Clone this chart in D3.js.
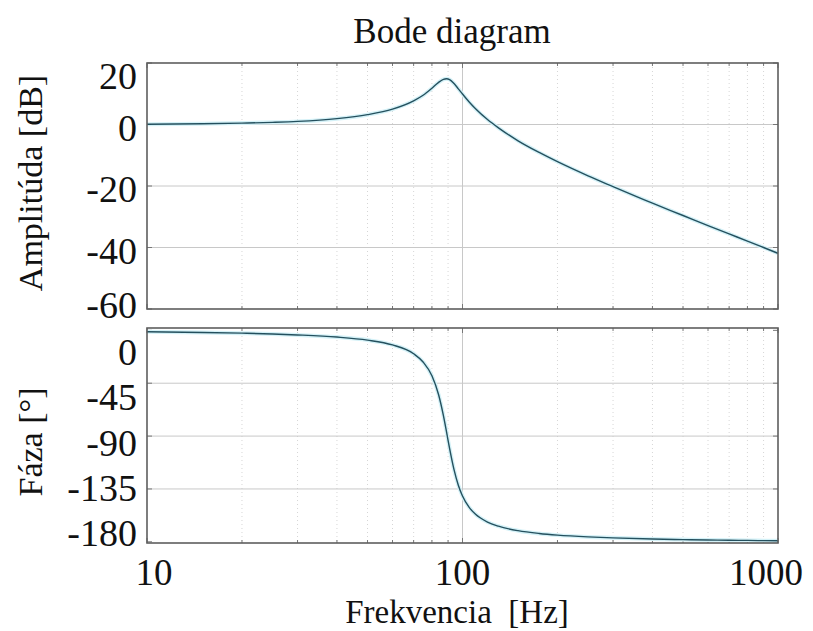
<!DOCTYPE html>
<html>
<head>
<meta charset="utf-8">
<script src="https://cdn.jsdelivr.net/npm/d3@7"></script>
<style>
  body { margin: 0; background: #fff; }
</style>
</head>
<body>
<script>

// frequency response
const freqs       = [10, 15, 20, 25, 30, 40, 50, 60, 70, 75, 80, 84, 87, 89, 91, 94, 97, 100, 105, 110, 120, 130, 150, 175, 200, 250, 300, 400, 500, 600, 700, 800, 900, 1000];
const amplitudeDb = [0.1, 0.25, 0.45, 0.7, 1.0, 1.9, 3.2, 5.0, 7.7, 9.5, 11.8, 13.7, 14.7, 14.9, 14.6, 13.3, 11.6, 9.9, 7.3, 5.1, 1.6, -1.1, -5.3, -9.1, -12.1, -16.7, -20.2, -25.6, -29.6, -32.9, -35.6, -37.9, -40.0, -41.9];
const phaseDeg    = [-1.2, -1.8, -2.4, -3.1, -3.9, -5.7, -8.3, -12.4, -19.9, -26.9, -38.7, -54.8, -72.6, -86.5, -100.5, -118.6, -131.8, -141.0, -150.7, -156.6, -163.2, -166.7, -170.5, -172.9, -174.3, -175.8, -176.6, -177.6, -178.1, -178.4, -178.7, -178.8, -179.0, -179.1];

// tick labels
const ampTicks   = [20, 0, -20, -40, -60];
const phaseTicks = [0, -45, -90, -135, -180];
const freqTicks  = [10, 100, 1000];

// dimensions
const WIDTH = 813;
const HEIGHT = 631;
const LEFT = 147;
const RIGHT = 778;
const TOP_PANEL = {top: 63, bottom: 309};
const BOTTOM_PANEL = {top: 328, bottom: 543};
const lineColor = '#24505e';
const FONT = '"Liberation Serif", "Times New Roman", Times, serif';

let SVG = d3.select('body')
            .append('svg')
            .attr('width', WIDTH)
            .attr('height', HEIGHT)
            .attr('font-family', FONT);

// shared log scale for the frequency
const xScale = d3.scaleLog()
                 .domain([10, 1000])
                 .range([LEFT, RIGHT]);

// amplitude and phase scales
const yAmp = d3.scaleLinear()
               .domain([-60, 20])
               .range([TOP_PANEL.bottom, TOP_PANEL.top]);

const yPhase = d3.scaleLinear()
                 .domain([-181, 2])
                 .range([BOTTOM_PANEL.bottom, BOTTOM_PANEL.top]);

// phase labels sit evenly spaced, not exactly on the grid
const yPhaseLabel = d3.scaleLinear()
                      .domain([0, -180])
                      .range([352, 533]);

function drawPanel(panel, yScale, values, ticks, labelY) {

    let g = SVG.append('g');
    const minor = xScale.ticks().filter(f => freqTicks.indexOf(f) < 0);

    // dotted minor grid
    g.selectAll('.minor')
     .data(minor)
     .enter()
     .append('line')
     .attr('x1', d => xScale(d))
     .attr('x2', d => xScale(d))
     .attr('y1', panel.top)
     .attr('y2', panel.bottom)
     .attr('stroke', '#d6d6d6')
     .attr('stroke-width', 1)
     .attr('stroke-dasharray', '1,3');

    // solid major grid
    g.selectAll('.majorx')
     .data(freqTicks.slice(1, -1))
     .enter()
     .append('line')
     .attr('x1', d => xScale(d))
     .attr('x2', d => xScale(d))
     .attr('y1', panel.top)
     .attr('y2', panel.bottom)
     .attr('stroke', '#c8c8c8');

    g.selectAll('.majory')
     .data(ticks.slice(1, -1))
     .enter()
     .append('line')
     .attr('x1', LEFT)
     .attr('x2', RIGHT)
     .attr('y1', d => yScale(d))
     .attr('y2', d => yScale(d))
     .attr('stroke', '#c8c8c8');

    // small inward ticks on top and bottom
    xScale.ticks().forEach(f => {
        let len = freqTicks.indexOf(f) < 0 ? 3 : 5;
        g.append('line')
         .attr('x1', xScale(f)).attr('x2', xScale(f))
         .attr('y1', panel.top).attr('y2', panel.top + len)
         .attr('stroke', '#777');
        g.append('line')
         .attr('x1', xScale(f)).attr('x2', xScale(f))
         .attr('y1', panel.bottom).attr('y2', panel.bottom - len)
         .attr('stroke', '#777');
    });

    // and on left and right
    ticks.forEach(t => {
        g.append('line')
         .attr('x1', LEFT).attr('x2', LEFT + 5)
         .attr('y1', yScale(t)).attr('y2', yScale(t))
         .attr('stroke', '#777');
        g.append('line')
         .attr('x1', RIGHT).attr('x2', RIGHT - 5)
         .attr('y1', yScale(t)).attr('y2', yScale(t))
         .attr('stroke', '#777');
    });

    // the curve, with a faint halo like the original
    const line = d3.line()
                   .x((d, i) => xScale(freqs[i]))
                   .y(d => yScale(d))
                   .curve(d3.curveMonotoneX);

    g.append('path')
     .attr('d', line(values))
     .attr('fill', 'none')
     .attr('stroke', '#d4f1f7')
     .attr('stroke-width', 4);

    g.append('path')
     .attr('d', line(values))
     .attr('fill', 'none')
     .attr('stroke', lineColor)
     .attr('stroke-width', 1.4);

    // frame
    g.append('rect')
     .attr('x', LEFT)
     .attr('y', panel.top)
     .attr('width', RIGHT - LEFT)
     .attr('height', panel.bottom - panel.top)
     .attr('fill', 'none')
     .attr('stroke', '#5e5e5e')
     .attr('stroke-width', 1.6);

    // tick labels
    g.selectAll('.label')
     .data(ticks)
     .enter()
     .append('text')
     .attr('x', 137)
     .attr('y', d => labelY(d))
     .attr('text-anchor', 'end')
     .attr('dominant-baseline', 'central')
     .attr('fill', '#111')
     .style('font-size', '38px')
     .text(d => d);
}

drawPanel(TOP_PANEL, yAmp, amplitudeDb, ampTicks,
          d => Math.max(76, Math.min(305, yAmp(d) + 3)));
drawPanel(BOTTOM_PANEL, yPhase, phaseDeg, phaseTicks, d => yPhaseLabel(d));

// x tick labels
SVG.selectAll('.xlabel')
   .data(freqTicks)
   .enter()
   .append('text')
   .attr('x', d => Math.max(154, Math.min(766, xScale(d))))
   .attr('y', 585)
   .attr('text-anchor', 'middle')
   .attr('fill', '#111')
   .style('font-size', '37px')
   .text(d => d);

// titles
SVG.append('text')
   .attr('x', 452)
   .attr('y', 43)
   .attr('text-anchor', 'middle')
   .attr('fill', '#111')
   .style('font-size', '35px')
   .text('Bode diagram');

SVG.append('text')
   .attr('x', 457)
   .attr('y', 623)
   .attr('text-anchor', 'middle')
   .attr('fill', '#111')
   .style('font-size', '33px')
   .style('white-space', 'pre')
   .text('Frekvencia  [Hz]');

SVG.append('text')
   .attr('transform', 'translate(30,183) rotate(-90)')
   .attr('text-anchor', 'middle')
   .attr('dominant-baseline', 'central')
   .attr('fill', '#111')
   .style('font-size', '34px')
   .text('Amplitúda [dB]');

SVG.append('text')
   .attr('transform', 'translate(30,442) rotate(-90)')
   .attr('text-anchor', 'middle')
   .attr('dominant-baseline', 'central')
   .attr('fill', '#111')
   .style('font-size', '34px')
   .text('Fáza [°]');

</script>
</body>
</html>
